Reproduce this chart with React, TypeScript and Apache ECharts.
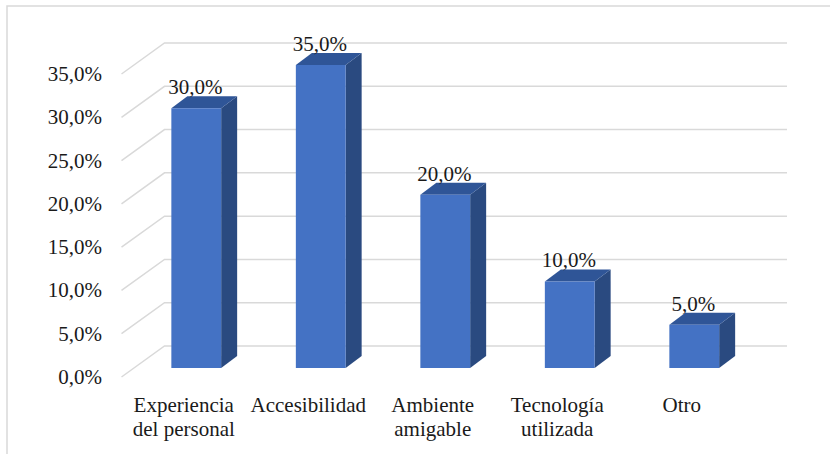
import React, { useEffect, useRef } from 'react';
import * as echarts from 'echarts';

// Categories, their shares (%) and the value-axis ticks
const categories = [
  'Experiencia\ndel personal',
  'Accesibilidad',
  'Ambiente\namigable',
  'Tecnología\nutilizada',
  'Otro',
];
const values = [30, 35, 20, 10, 5];
const valueTicks = [0, 5, 10, 15, 20, 25, 30, 35];

const FONT = "'Liberation Serif', 'Times New Roman', serif";
const fmt = (v: number) => v.toFixed(1).replace('.', ',') + '%';

// Pseudo-3D geometry: bar depth and floor/back-wall offsets
const BAR_DX = 16;
const BAR_DY = -12;
const FRONT_DX = -12.5;
const FRONT_DY = 9;
const BACK_DX = 30.5;
const BACK_DY = -22;

export default function App() {
  const ref = useRef<HTMLDivElement>(null);

  useEffect(() => {
    document.body.style.margin = '0';
    const chart = echarts.init(ref.current!, undefined, { renderer: 'svg' });

    const option: any = {
      animation: false,
      backgroundColor: '#ffffff',
      grid: [
        { left: 134, width: 622.5, top: 65, bottom: 86 },
        { left: 121.5, width: 622.5, top: 74, bottom: 77 },
      ],
      xAxis: [
        {
          type: 'category',
          gridIndex: 0,
          data: categories,
          axisLine: { show: false },
          axisTick: { show: false },
          axisLabel: { show: false },
        },
        {
          type: 'category',
          gridIndex: 1,
          data: categories,
          axisLine: { show: false },
          axisTick: { show: false },
          axisLabel: {
            margin: 16,
            fontFamily: FONT,
            fontSize: 21,
            lineHeight: 24,
            color: '#1a1a1a',
            interval: 0,
          },
        },
      ],
      yAxis: [
        {
          type: 'value',
          gridIndex: 0,
          min: 0,
          max: 35,
          interval: 5,
          axisLine: { show: false },
          axisTick: { show: false },
          axisLabel: { show: false },
          splitLine: { show: false },
        },
        {
          type: 'value',
          gridIndex: 1,
          min: 0,
          max: 35,
          interval: 5,
          axisLine: { show: false },
          axisTick: { show: false },
          splitLine: { show: false },
          axisLabel: {
            margin: 19.5,
            fontFamily: FONT,
            fontSize: 21,
            color: '#1a1a1a',
            formatter: (v: number) => fmt(v),
          },
        },
      ],
      graphic: [
        {
          type: 'rect',
          shape: { x: 7, y: 6, width: 900, height: 600 },
          style: { fill: 'none', stroke: '#d9d9d9', lineWidth: 1.5 },
          silent: true,
        },
      ],
      series: [
        {
          // floor-to-wall gridlines
          type: 'custom',
          xAxisIndex: 0,
          yAxisIndex: 0,
          clip: false,
          z: 1,
          data: valueTicks.map((t) => [0, t]),
          renderItem: (params: any, api: any) => {
            const y = api.coord([0, api.value(1)])[1];
            const cs = params.coordSys;
            const gx = cs.x;
            const right = cs.x + cs.width + BACK_DX;
            return {
              type: 'polyline',
              shape: {
                points: [
                  [gx + FRONT_DX, y + FRONT_DY],
                  [gx + BACK_DX, y + BACK_DY],
                  [right, y + BACK_DY],
                ],
              },
              style: { stroke: '#d9d9d9', lineWidth: 1.5, fill: 'none' },
            };
          },
        },
        {
          type: 'custom',
          xAxisIndex: 0,
          yAxisIndex: 0,
          clip: false,
          z: 2,
          data: values.map((v, i) => [i, v]),
          renderItem: (params: any, api: any) => {
            const i = api.value(0);
            const v = api.value(1);
            const [cx, top] = api.coord([i, v]);
            const base = api.coord([i, 0])[1];
            const w = api.size([1, 0])[0] * 0.4;
            const x0 = cx - w / 2;
            const x1 = cx + w / 2;
            return {
              type: 'group',
              children: [
                {
                  type: 'polygon',
                  shape: {
                    points: [
                      [x1, top],
                      [x1 + BAR_DX, top + BAR_DY],
                      [x1 + BAR_DX, base + BAR_DY],
                      [x1, base],
                    ],
                  },
                  style: { fill: '#2A4A80' },
                },
                {
                  type: 'polygon',
                  shape: {
                    points: [
                      [x0, top],
                      [x0 + BAR_DX, top + BAR_DY],
                      [x1 + BAR_DX, top + BAR_DY],
                      [x1, top],
                    ],
                  },
                  style: { fill: '#2F5597' },
                },
                {
                  type: 'rect',
                  shape: { x: x0, y: top, width: w, height: base - top },
                  style: { fill: '#4472C4' },
                },
                {
                  type: 'text',
                  x: cx - 1,
                  y: top - 21,
                  style: {
                    text: fmt(v),
                    fontFamily: FONT,
                    fontSize: 21,
                    fill: '#1a1a1a',
                    align: 'center',
                    verticalAlign: 'middle',
                  },
                },
              ],
            };
          },
        },
      ],
    };

    chart.setOption(option);
    return () => chart.dispose();
  }, []);

  return <div ref={ref} style={{ width: 830, height: 454 }} />;
}
